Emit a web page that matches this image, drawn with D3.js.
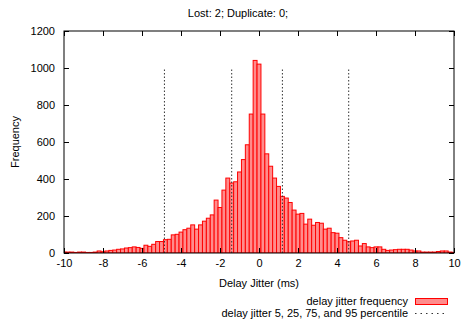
<html>
<head>
	<meta http-equiv="Content-Type" content="text/html; charset=utf-8" />
	<script src="https://cdn.jsdelivr.net/npm/d3@7/dist/d3.min.js" charset="utf-8"></script>
	<style type="text/css">
	body {
	  margin: 0;
	  background-color: #fff;
	}
	svg text {
	  font-family: "Liberation Sans", Arial, sans-serif;
	  font-size: 11px;
	  fill: #000;
	}
	.axis path { display: none; }
	.axis line { stroke: #000; }
	</style>
</head>
<body>
	<svg width="462" height="325" version="1.1" xmlns="http://www.w3.org/2000/svg"></svg>

	<script type="text/javascript">
		// bin centres (ms), step 0.2 from -10 to 10
		var v_BinStart  = -10;
		var v_BinWidth  = 0.2;
		var v_Counts    = [
			5, 5, 5, 3, 5, 5, 3, 3, 5, 11,
			7, 11, 14, 16, 20, 22, 27, 29, 33, 30,
			25, 42, 36, 47, 62, 62, 72, 74, 98, 101,
			113, 126, 134, 152, 129, 152, 172, 188, 206, 286,
			246, 340, 405, 378, 385, 438, 505, 585, 751, 1041,
			1021, 751, 536, 469, 405, 360, 306, 297, 273, 232,
			210, 214, 156, 183, 150, 165, 161, 129, 134, 110,
			107, 83, 69, 61, 65, 69, 38, 51, 33, 29,
			33, 33, 20, 14, 16, 18, 20, 20, 20, 16,
			11, 11, 5, 5, 5, 5, 8, 11, 11, 5,
			3
		];
		var v_Percentiles = [-4.85, -1.4, 1.2, 4.6];   // 5, 25, 75, 95
		var v_PercTop     = 1000;
		var v_XTicks      = [-10, -8, -6, -4, -2, 0, 2, 4, 6, 8, 10];
		var v_YTicks      = [0, 200, 400, 600, 800, 1000, 1200];
		var v_Title       = "Lost: 2; Duplicate: 0;";
		var v_XLabel      = "Delay Jitter (ms)";
		var v_YLabel      = "Frequency";
		var v_Legend      = ["delay jitter frequency", "delay jitter 5, 25, 75, and 95 percentile"];

		var v_Datas = v_Counts.map(function(d ,i)
		{
			return {x: v_BinStart + i * v_BinWidth, y: d};
		});

		function f_Plain(d)
		{
			return String(d);   // plain hyphen, no thousands comma
		}

		function f_Draw()
		{
			var v_SVG  = d3.select("svg");
			var v_Plot = {left: 64, right: 454, top: 31, bottom: 253};

			var v_xScale = d3.scaleLinear().domain([-10 ,10]).range([v_Plot.left ,v_Plot.right]);
			var v_yScale = d3.scaleLinear().domain([0 ,1200]).range([v_Plot.bottom ,v_Plot.top]);

			v_SVG.append("clipPath").attr("id" ,"plotClip")
				.append("rect")
				.attr("x" ,v_Plot.left).attr("y" ,v_Plot.top)
				.attr("width" ,v_Plot.right - v_Plot.left)
				.attr("height" ,v_Plot.bottom - v_Plot.top);

			// bars
			v_SVG.append("g").attr("clip-path" ,"url(#plotClip)")
				.selectAll("rect").data(v_Datas).enter()
				.append("rect")
				.attr("x" ,function(d){ return v_xScale(d.x - v_BinWidth / 2); })
				.attr("y" ,function(d){ return v_yScale(d.y); })
				.attr("width" ,function(d){ return v_xScale(d.x + v_BinWidth / 2) - v_xScale(d.x - v_BinWidth / 2); })
				.attr("height" ,function(d){ return v_yScale(0) - v_yScale(d.y); })
				.attr("fill" ,"#ff8c8c")
				.attr("stroke" ,"#ff0000")
				.attr("stroke-width" ,1);

			// percentile lines
			v_SVG.append("g").selectAll("line").data(v_Percentiles).enter()
				.append("line")
				.attr("x1" ,function(d){ return v_xScale(d); })
				.attr("x2" ,function(d){ return v_xScale(d); })
				.attr("y1" ,v_yScale(0))
				.attr("y2" ,v_yScale(v_PercTop))
				.attr("stroke" ,"#333")
				.attr("stroke-width" ,1)
				.attr("stroke-dasharray" ,"1.5,2");

			// axes, ticks inward and mirrored
			v_SVG.append("g").attr("class" ,"axis")
				.attr("transform" ,"translate(0," + v_Plot.bottom + ")")
				.call(d3.axisBottom(v_xScale).tickValues(v_XTicks).tickSize(-5).tickPadding(6).tickFormat(f_Plain));
			v_SVG.append("g").attr("class" ,"axis")
				.attr("transform" ,"translate(0," + v_Plot.top + ")")
				.call(d3.axisTop(v_xScale).tickValues(v_XTicks).tickSize(-5).tickFormat(""));
			v_SVG.append("g").attr("class" ,"axis")
				.attr("transform" ,"translate(" + v_Plot.left + ",0)")
				.call(d3.axisLeft(v_yScale).tickValues(v_YTicks).tickSize(-5).tickPadding(9).tickFormat(f_Plain));
			v_SVG.append("g").attr("class" ,"axis")
				.attr("transform" ,"translate(" + v_Plot.right + ",0)")
				.call(d3.axisRight(v_yScale).tickValues(v_YTicks).tickSize(-5).tickFormat(""));

			v_SVG.append("rect")
				.attr("x" ,v_Plot.left).attr("y" ,v_Plot.top)
				.attr("width" ,v_Plot.right - v_Plot.left)
				.attr("height" ,v_Plot.bottom - v_Plot.top)
				.attr("fill" ,"none")
				.attr("stroke" ,"#000")
				.attr("stroke-width" ,1);

			// titles
			v_SVG.append("text").attr("x" ,238).attr("y" ,17)
				.attr("text-anchor" ,"middle").text(v_Title);
			v_SVG.append("text").attr("x" ,(v_Plot.left + v_Plot.right) / 2).attr("y" ,287)
				.attr("text-anchor" ,"middle").text(v_XLabel);
			v_SVG.append("text")
				.attr("transform" ,"translate(19," + ((v_Plot.top + v_Plot.bottom) / 2) + ") rotate(-90)")
				.attr("text-anchor" ,"middle").text(v_YLabel);

			// legend
			var v_Leg = v_SVG.append("g");
			v_Leg.selectAll("text").data(v_Legend).enter()
				.append("text")
				.attr("x" ,408)
				.attr("y" ,function(d ,i){ return 305 + i * 12; })
				.attr("text-anchor" ,"end")
				.text(function(d){ return d; });
			v_Leg.append("rect")
				.attr("x" ,415.5).attr("y" ,298.5)
				.attr("width" ,32).attr("height" ,6)
				.attr("fill" ,"#ff8c8c")
				.attr("stroke" ,"#ff0000");
			v_Leg.append("line")
				.attr("x1" ,415).attr("x2" ,448)
				.attr("y1" ,313.5).attr("y2" ,313.5)
				.attr("stroke" ,"#333")
				.attr("stroke-dasharray" ,"1.5,4");
		}

		f_Draw();
	</script>
</body>
</html>
